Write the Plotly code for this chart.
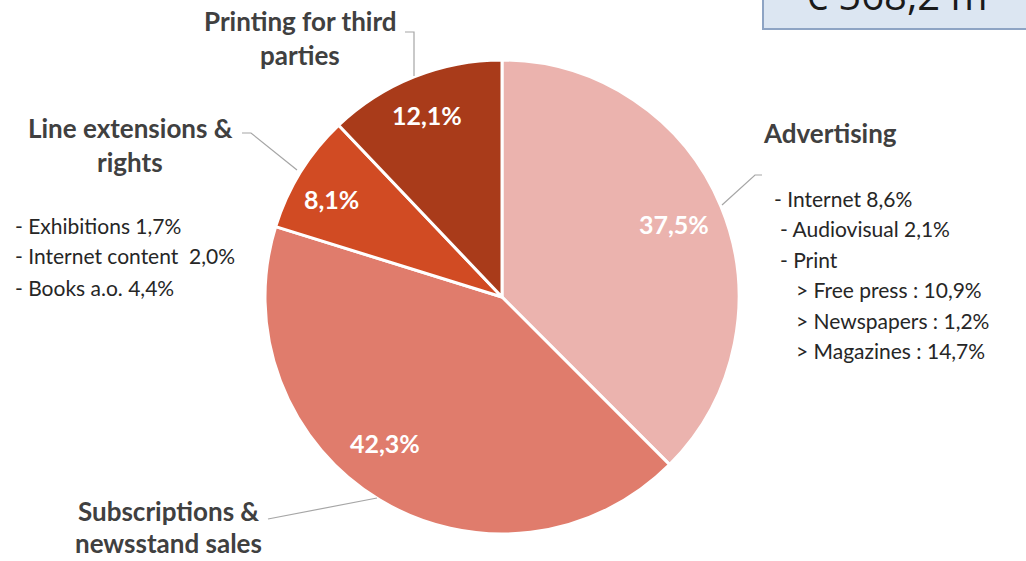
import plotly.graph_objects as go

# Revenue split by activity (share of total, %)
categories = ["Advertising", "Subscriptions & newsstand sales",
              "Line extensions & rights", "Printing for third parties"]
shares = [37.5, 42.3, 8.1, 12.1]
colors = ["#EBB3AE", "#E07C6C", "#D14B23", "#A93B1A"]

# Category captions as they are broken over lines
caption_lines = {
    "Advertising": ["Advertising"],
    "Subscriptions & newsstand sales": ["Subscriptions &", "newsstand sales"],
    "Line extensions & rights": ["Line extensions &", "rights"],
    "Printing for third parties": ["Printing for third", "parties"],
}

# Sub-breakdowns
advertising_detail = ["- Internet 8,6%", "- Audiovisual 2,1%", "- Print",
                      "> Free press : 10,9%", "> Newspapers : 1,2%",
                      "> Magazines : 14,7%"]
advertising_indent = [0, 6, 6, 22, 22, 22]
line_ext_detail = ["- Exhibitions 1,7%", "- Internet content  2,0%",
                   "- Books a.o. 4,4%"]

total_label = "€ 568,2 m"

W, H = 1026, 561


def px(x):
    return x / W


def py(y):
    return 1 - y / H


fig = go.Figure()
fig.add_trace(go.Pie(
    labels=categories,
    values=shares,
    sort=False,
    direction="clockwise",
    rotation=0,
    marker=dict(colors=colors, line=dict(color="white", width=3)),
    textinfo="none",
    domain=dict(x=[px(265), px(739)], y=[py(534), py(60)]),
    showlegend=False,
    hoverinfo="label+percent",
))

annotations = []
shapes = []

# Percentage labels inside the slices (text taken from the shares)
pct_anchor = [(674, 224), (385, 443), (331, 199), (427, 115)]
for v, (x, y) in zip(shares, pct_anchor):
    annotations.append(dict(
        x=px(x), y=py(y), xref="paper", yref="paper",
        text=f"<b>{v:.1f}%</b>".replace(".", ","), showarrow=False,
        xanchor="center", yanchor="middle",
        font=dict(family="Lato", size=25, color="white")))


def caption(lines, cx, y0, step=34, size=26, anchor="center"):
    for i, t in enumerate(lines):
        annotations.append(dict(
            x=px(cx), y=py(y0 + i * step), xref="paper", yref="paper",
            text=f"<b>{t}</b>", showarrow=False, xanchor=anchor,
            yanchor="middle", borderpad=0,
            font=dict(family="Lato", size=size, color="#404040")))


def detail(lines, x0, y0, indents=None, step=31, size=21):
    for i, t in enumerate(lines):
        dx = indents[i] if indents else 0
        annotations.append(dict(
            x=px(x0 + dx), y=py(y0 + i * step), xref="paper", yref="paper",
            text=t, showarrow=False, xanchor="left", yanchor="middle",
            font=dict(family="Lato", size=size, color="#262626")))


def leader(points):
    path = "M " + " L ".join(f"{px(x)},{py(y)}" for x, y in points)
    shapes.append(dict(type="path", path=path, xref="paper", yref="paper",
                       line=dict(color="#A6A6A6", width=1.2)))


caption(caption_lines["Printing for third parties"], 300, 21)
leader([(405, 32), (414, 32), (414, 76)])

caption(caption_lines["Line extensions & rights"], 130, 128)
leader([(242, 133), (251, 133), (297, 170)])
detail(line_ext_detail, 13, 225)

caption(caption_lines["Advertising"], 762, 133, anchor="left")
leader([(762, 175), (755, 175), (722, 205)])
detail(advertising_detail, 772, 198, advertising_indent, step=30.5)

caption(caption_lines["Subscriptions & newsstand sales"], 168, 511, step=32)
leader([(268, 519), (377, 498)])

# Total box, running off the top-right corner
shapes.append(dict(type="rect", xref="paper", yref="paper",
                   x0=px(763), x1=px(1040), y0=py(29), y1=py(-20),
                   fillcolor="#DCE6F2", line=dict(color="#8EA4C4", width=2),
                   layer="below"))
annotations.append(dict(x=px(896), y=py(14), xref="paper", yref="paper",
                        text=total_label, showarrow=False, xanchor="center",
                        yanchor="bottom", yshift=-10,
                        font=dict(family="Open Sans", size=40, color="#1A1A1A")))

fig.update_layout(
    width=W, height=H,
    margin=dict(l=0, r=0, t=0, b=0),
    paper_bgcolor="white",
    separators=",.",
    annotations=annotations,
    shapes=shapes,
)

fig.write_html("out.html")
